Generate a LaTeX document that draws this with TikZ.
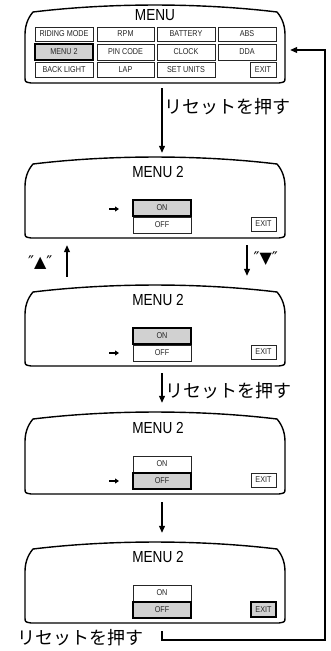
\documentclass[tikz,border=0pt]{standalone}
\usepackage{fontspec}
\setmainfont{Liberation Sans}
\newfontfamily\cond[FakeStretch=0.85]{Liberation Sans}
\newfontfamily\jp{Noto Sans CJK JP}
\newfontfamily\sym{DejaVu Sans}
\usetikzlibrary{arrows.meta,fit,calc}
\tikzset{
  scr/.style={line width=1.4pt, line join=round},
  btn/.style={draw=black!85, line width=0.7pt, fill=white},
  sel/.style={draw=black, line width=1.8pt, fill=black!18},
  btxt/.style={font=\cond\fontsize{8.5}{9}\selectfont, text=black!85},
  title/.style={font=\cond\fontsize{16}{18}\selectfont},
  arr/.style={line width=1.1pt, -{Triangle[length=7pt,width=6pt]}},
  jlab/.style={font=\jp\fontsize{18}{20}\selectfont, inner sep=0pt},
  symlab/.style={font=\sym\fontsize{16}{18}\selectfont, inner sep=0pt},
  ptr/.style={line width=1.3pt, -{Triangle[length=4pt,width=5pt]}},
}
\newcommand\scrn[3]{%
  \draw[scr] (33,#2+7) .. controls (110,#2-2.3) and (200,#2-2.3) .. (277,#2+7)
    .. controls (283,#2+14) and (285,#2+22) .. (285,#2+30) -- (285,#3-6)
    .. controls (285,#3-1) .. (279,#3) -- (31,#3)
    .. controls (25,#3-1) .. (25,#3-6) -- (25,#2+30)
    .. controls (25,#2+22) and (27,#2+14) .. (33,#2+7) -- cycle;
  \path (25,#2) coordinate (#1nw) (285,#3) coordinate (#1se);
  \node[fit=(#1nw)(#1se), inner sep=0pt] (#1) {};
}
% name, x1, y1, x2, y2, text, style
\newcommand\bt[7]{%
  \draw[#7] (#2,#3) rectangle (#4,#5);
  \node[btxt] (#1) at ({(#2+#4)/2},{(#3+#5)/2}) {#6};
}
\newcommand\onoff[4]{% prefix, y0, onstyle, offstyle
  \node[title] (#1t) at (158,#2+15) {MENU 2};
  \bt{#1on}{133}{#2+43}{191}{#2+59}{ON}{#3}
  \bt{#1off}{133}{#2+60}{191}{#2+76}{OFF}{#4}
}
\begin{document}
\begin{tikzpicture}[x=1pt,y=-1pt]
\useasboundingbox (0,0) rectangle (330,651);

% ---------- screen 1 : MENU
\scrn{s1}{5}{83}
\node[title] (s1t) at (155,15) {MENU};
\bt{b11}{35}{27}{93}{41}{RIDING MODE}{btn}
\bt{b12}{97}{27}{154}{41}{RPM}{btn}
\bt{b13}{157}{27}{215}{41}{BATTERY}{btn}
\bt{b14}{218}{27}{276}{41}{ABS}{btn}
\bt{b21}{35}{44}{93}{60}{MENU 2}{sel}
\bt{b22}{97}{44}{154}{60}{PIN CODE}{btn}
\bt{b23}{157}{44}{215}{60}{CLOCK}{btn}
\bt{b24}{218}{44}{276}{60}{DDA}{btn}
\bt{b31}{35}{62}{93}{77}{BACK LIGHT}{btn}
\bt{b32}{97}{62}{154}{77}{LAP}{btn}
\bt{b33}{157}{62}{215}{77}{SET UNITS}{btn}
\bt{b34}{250}{62}{276}{77}{EXIT}{btn}

% ---------- screen 2
\scrn{s2}{157}{238}
\onoff{p2}{157}{sel}{btn}
\bt{e2}{251}{217}{276}{231}{EXIT}{btn}
\draw[ptr] (109,209) -- (119,209);

% ---------- screen 3
\scrn{s3}{285}{366}
\onoff{p3}{285}{sel}{btn}
\bt{e3}{251}{345}{276}{359}{EXIT}{btn}
\draw[ptr] (109,353) -- (119,353);

% ---------- screen 4
\scrn{s4}{412}{494}
\onoff{p4}{413}{btn}{sel}
\bt{e4}{251}{473}{276}{487}{EXIT}{btn}
\draw[ptr] (109,481) -- (119,481);

% ---------- screen 5
\scrn{s5}{542}{623}
\onoff{p5}{542}{btn}{sel}
\bt{e5}{251}{602}{276}{617}{EXIT}{sel}

% ---------- connectors
\draw[arr] ([xshift=7pt,yshift=-5pt]s1.south) -- ([xshift=7pt,yshift=4pt]s2.north)
  node[jlab, pos=0.29, anchor=west, xshift=2pt] (l1) {リセットを押す};
\draw[arr] ([xshift=-88pt,yshift=8pt]s3.north) -- ([xshift=-88pt,yshift=-7pt]s2.south)
  node[symlab, pos=0.45, left=14pt] (lu) {″▲″};
\draw[arr] ([xshift=92pt,yshift=-7pt]s2.south) -- ([xshift=92pt,yshift=9pt]s3.north)
  node[symlab, pos=0.45, right=6pt] (ld) {″▼″};
\draw[arr] ([xshift=7pt,yshift=-7pt]s3.south) -- ([xshift=7pt,yshift=9pt]s4.north)
  node[jlab, pos=0.6, anchor=west, xshift=3pt] (l3) {リセットを押す};
\draw[arr] ([xshift=7pt,yshift=-8pt]s4.south) -- ([xshift=7pt,yshift=9pt]s5.north);
\coordinate (lc) at (325,640);
\draw[arr] ([xshift=7pt,yshift=-8pt]s5.south) |- (lc) |- ([xshift=5pt,yshift=-6pt]s1.east);
\node[jlab] (l5) at (80,638) {リセットを押す};
\end{tikzpicture}
\end{document}
